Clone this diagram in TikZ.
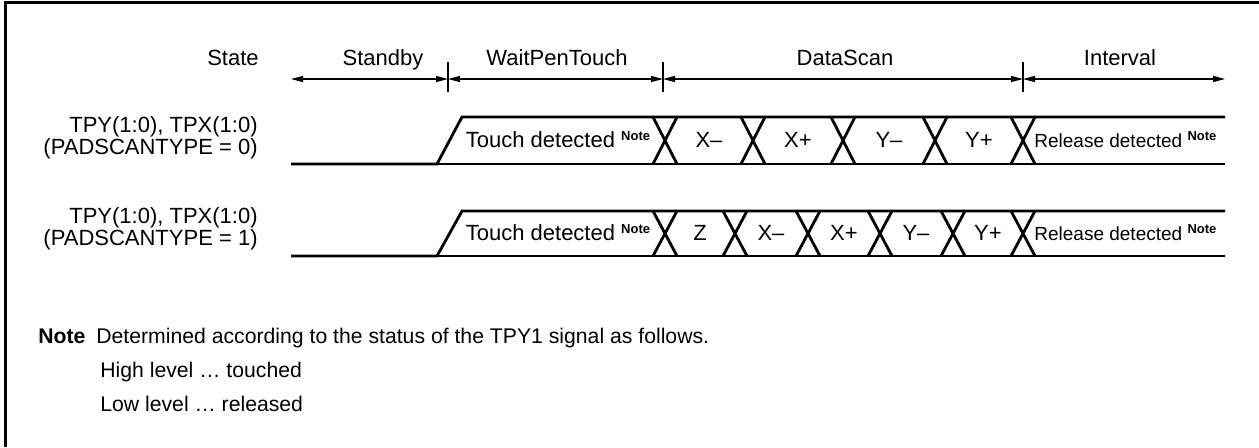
\documentclass[tikz,border=0pt]{standalone}
\usepackage{fontspec}
\setmainfont{Liberation Sans}
\usetikzlibrary{arrows.meta}

\newcommand{\notesup}{\raisebox{3.6pt}{\fontsize{6.5}{7}\selectfont\bfseries Note}}

\begin{document}
\begin{tikzpicture}[x=0.5pt,y=-0.5pt,
    every node/.style={font=\fontsize{11}{10}\selectfont,inner sep=0pt},
    dim/.style={{Triangle[length=6pt,width=3pt]}-{Triangle[length=6pt,width=3pt]},line width=0.6pt},
    tick/.style={line width=0.6pt},
    bus/.style={line width=1.4pt,line join=miter},
    sig/.style={align=right,anchor=east},
    small/.style={font=\fontsize{9.5}{11}\selectfont},
    notetext/.style={anchor=base west,font=\fontsize{10.6}{12}\selectfont}]

  \useasboundingbox (0,0) rectangle (1259,447);
  \draw[line width=1.5pt] (5,447) -- (5,2) -- (1259,2);

  % state row
  \coordinate (t0) at (291,79);
  \coordinate (t1) at (448,79);
  \coordinate (t2) at (663,79);
  \coordinate (t3) at (1023,79);
  \coordinate (t4) at (1225,79);

  \node[anchor=base] (state) at (233,65) {State};
  \node[anchor=base] (stby)  at (383,65) {Standby};
  \node[anchor=base] (wpt)   at (557,65) {WaitPenTouch};
  \node[anchor=base] (dscan) at (845,65) {DataScan};
  \node[anchor=base] (intv)  at (1120,65) {Interval};

  \draw[dim] (t0) -- (t1);
  \draw[dim] (t1) -- (t2);
  \draw[dim] (t2) -- (t3);
  \draw[dim] (t3) -- (t4);
  \foreach \t in {t1,t2,t3}
    \draw[tick] ([yshift=8.5pt]\t) -- ([yshift=-6.5pt]\t);

  % PADSCANTYPE = 0
  \node[sig] (sig0) at (258,138) {TPY(1:0), TPX(1:0)\\(PADSCANTYPE = 0)};
  \draw[bus] (291,164) -- (437,164) -- (462,117) -- (1225,117);
  \draw[bus] (437,164) -- (1225,164);
  \foreach \c in {665,753,843,935,1023}
    \draw[bus] (\c-12,117) -- (\c+12,164) (\c-12,164) -- (\c+12,117);

  \node (tch0) at (558,140) {Touch detected \notesup};
  \node (xm0)  at (709,140) {X\textendash};
  \node (xp0)  at (798,140) {X+};
  \node (ym0)  at (889,140) {Y\textendash};
  \node (yp0)  at (979,140) {Y+};
  \node[small,anchor=west] (rel0) at (1034,140) {Release detected \notesup};

  % PADSCANTYPE = 1
  \node[sig] (sig1) at (258,229) {TPY(1:0), TPX(1:0)\\(PADSCANTYPE = 1)};
  \draw[bus] (291,256) -- (437,256) -- (462,211) -- (1225,211);
  \draw[bus] (437,256) -- (1225,256);
  \foreach \c in {665,735,808,880,953,1023}
    \draw[bus] (\c-12,211) -- (\c+12,256) (\c-12,256) -- (\c+12,211);

  \node (tch1) at (558,233) {Touch detected \notesup};
  \node (z1)   at (700,233) {Z};
  \node (xm1)  at (771,233) {X\textendash};
  \node (xp1)  at (844,233) {X+};
  \node (ym1)  at (916,233) {Y\textendash};
  \node (yp1)  at (988,233) {Y+};
  \node[small,anchor=west] (rel1) at (1034,233) {Release detected \notesup};

  % note
  \node[notetext,font=\fontsize{10.6}{12}\selectfont\bfseries] (nt) at (38,343) {Note};
  \node[notetext] (ntx) at (96,343)
        {Determined according to the status of the TPY1 signal as follows.};
  \node[notetext] (hi) at (100,377) {High level … touched};
  \node[notetext] (lo) at (100,411) {Low level … released};
\end{tikzpicture}
\end{document}
